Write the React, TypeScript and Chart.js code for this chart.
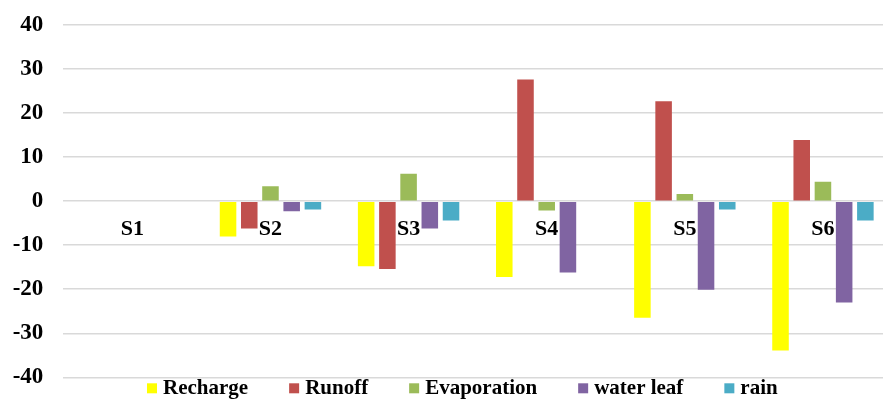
import { useEffect, useRef } from "react";
import { Chart, registerables } from "chart.js";

Chart.register(...registerables);

// Sites along the x axis
const categories = ["S1", "S2", "S3", "S4", "S5", "S6"];

// Water balance components per site
const recharge = [0, -8.0, -14.8, -17.2, -26.5, -33.9];
const runoff = [0, -6.2, -15.4, 27.6, 22.7, 13.9];
const evaporation = [0, 3.4, 6.2, -2.1, 1.6, 4.4];
const waterLeaf = [0, -2.3, -6.2, -16.2, -20.1, -23.0];
const rain = [0, -1.9, -4.4, 0, -1.9, -4.4];

const seriesNames = ["Recharge", "Runoff", "Evaporation", "water leaf", "rain"];
const seriesColors = ["#FFFF00", "#C0504D", "#9BBB59", "#8064A2", "#4BACC6"];

// Value axis range
const yMin = -40;
const yMax = 40;
const yStep = 10;

const FONT = "'Liberation Serif', 'Times New Roman', serif";
const CANVAS_W = 900;
const CANVAS_H = 399;

// Site names sit just under the zero line, centred on each group
const categoryLabelPlugin = {
  id: "categoryLabels",
  afterDatasetsDraw(chart: any) {
    const { ctx, scales } = chart;
    const xs = scales.x;
    const ys = scales.y;
    const y0 = ys.getPixelForValue(0);
    ctx.save();
    ctx.font = `bold 22px ${FONT}`;
    ctx.fillStyle = "#000";
    ctx.textAlign = "center";
    ctx.textBaseline = "middle";
    categories.forEach((c, i) => {
      ctx.fillText(c, xs.getPixelForValue(i), y0 + 28);
    });
    ctx.restore();
  },
};

// Compact legend row below the plot
const legendRowPlugin = {
  id: "legendRow",
  afterDraw(chart: any) {
    const { ctx, chartArea } = chart;
    const baseline = chartArea.bottom + 17;
    ctx.save();
    ctx.font = `bold 21px ${FONT}`;
    ctx.textAlign = "left";
    ctx.textBaseline = "alphabetic";
    let x = 147;
    chart.data.datasets.forEach((ds: any) => {
      ctx.fillStyle = ds.backgroundColor;
      ctx.fillRect(x, baseline - 11, 10, 10);
      x += 16;
      ctx.fillStyle = "#000";
      ctx.fillText(ds.label, x, baseline);
      x += ctx.measureText(ds.label).width + 41;
    });
    ctx.restore();
  },
};

export default function App() {
  const canvasRef = useRef<HTMLCanvasElement | null>(null);

  useEffect(() => {
    const canvas = canvasRef.current;
    if (!canvas) return;
    const seriesValues = [recharge, runoff, evaporation, waterLeaf, rain];
    const chart = new Chart(canvas, {
      type: "bar",
      data: {
        labels: categories,
        datasets: seriesNames.map((name, i) => ({
          label: name,
          data: seriesValues[i],
          backgroundColor: seriesColors[i],
          borderWidth: 0,
          categoryPercentage: 0.768,
          barPercentage: 0.78,
        })),
      },
      options: {
        responsive: false,
        animation: false,
        layout: { padding: { left: 0, right: 8, top: 25, bottom: 21.7 } },
        plugins: {
          legend: { display: false },
          tooltip: { enabled: false },
        },
        scales: {
          x: { display: false },
          y: {
            min: yMin,
            max: yMax,
            afterFit(scale: any) {
              scale.width = 63.3;
            },
            border: { display: false },
            grid: {
              color: "#D9D9D9",
              lineWidth: 1.5,
              drawTicks: true,
              tickLength: 20,
              tickColor: "rgba(0,0,0,0)",
            },
            ticks: {
              stepSize: yStep,
              padding: 0,
              color: "#000",
              font: { family: FONT, size: 23, weight: "bold" },
            },
          },
        },
      },
      plugins: [categoryLabelPlugin, legendRowPlugin],
    });
    return () => chart.destroy();
  }, []);

  return (
    <div
      style={{
        position: "fixed",
        left: 0,
        top: 0,
        width: 883,
        height: 399,
        overflow: "hidden",
        background: "#fff",
      }}
    >
      <canvas
        ref={canvasRef}
        width={CANVAS_W}
        height={CANVAS_H}
        style={{ display: "block", width: `${CANVAS_W}px`, height: `${CANVAS_H}px` }}
      />
    </div>
  );
}
